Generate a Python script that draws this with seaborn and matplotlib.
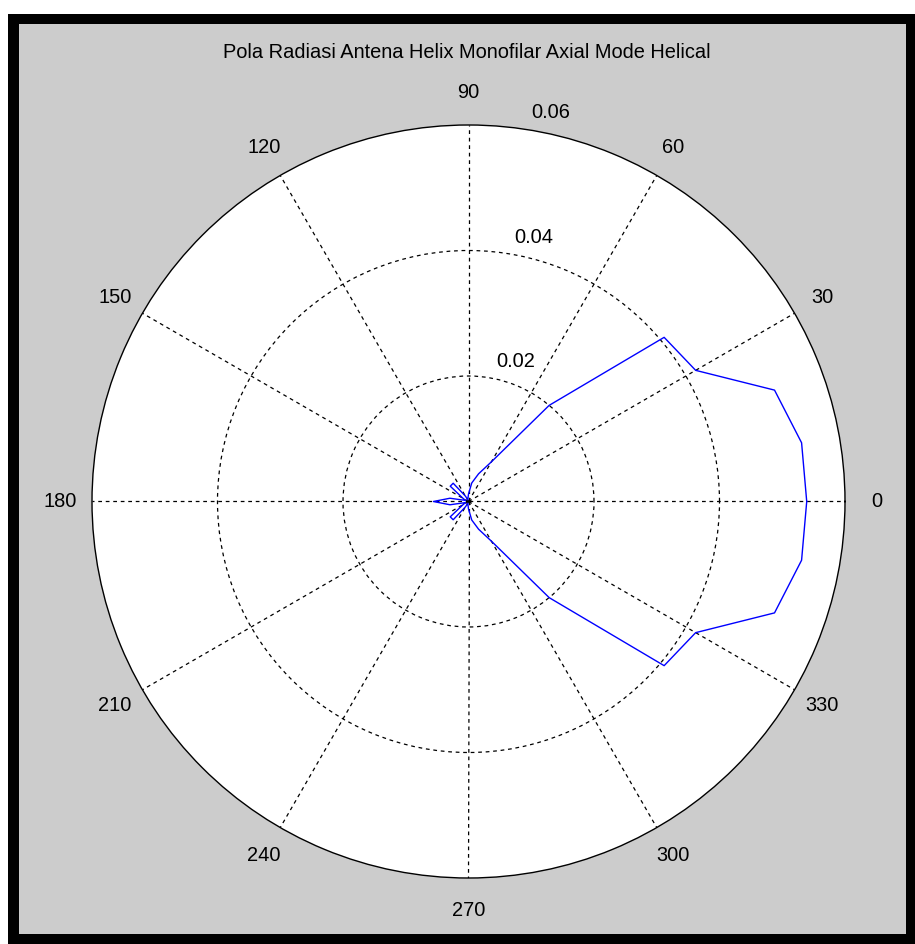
import numpy as np
import pandas as pd
import seaborn as sns
import matplotlib
matplotlib.use("Agg")
import matplotlib.pyplot as plt
from matplotlib.patches import Rectangle

# Radiation pattern samples (degrees, field magnitude)
angle_deg = [0, 10, 20, 30, 40, 50, 60, 70, 80, 90, 100, 110, 120, 130, 140, 150, 160, 170,
             180, 190, 200, 210, 220, 230, 240, 250, 260, 270, 280, 290, 300, 310, 320, 330,
             340, 350, 360]
magnitude = [0.0539, 0.0539, 0.0519, 0.0418, 0.0407, 0.0200, 0.0073, 0.0047, 0.0030, 0.0012,
             0.0005, 0.0003, 0.0010, 0.0038, 0.0038, 0.0010, 0.0005, 0.0030,
             0.0056, 0.0030, 0.0005, 0.0010, 0.0038, 0.0038, 0.0010, 0.0003, 0.0005,
             0.0012, 0.0030, 0.0047, 0.0073, 0.0200, 0.0407, 0.0418, 0.0519, 0.0539, 0.0539]

title_text = "Pola Radiasi Antena Helix Monofilar Axial Mode Helical"
r_ticks = [0.02, 0.04, 0.06]
r_tick_labels = ["0.02", "0.04", "0.06"]
theta_ticks = [0, 30, 60, 90, 120, 150, 180, 210, 240, 270, 300, 330]
theta_labels = [str(a) for a in theta_ticks]
r_max = 0.06

sns.set_style("white")
plt.rcParams["font.family"] = ["Liberation Sans Narrow", "Liberation Sans", "DejaVu Sans"]
FS = 14.4

df = pd.DataFrame({"theta": np.deg2rad(angle_deg), "r": magnitude})

W, H = 915, 944
fig = plt.figure(figsize=(W / 100, H / 100), dpi=100, facecolor="white")

# window frame: black border around a grey panel
fig.patches.append(Rectangle((8 / W, 0), 1 - 8 / W, 1 - 14 / H, transform=fig.transFigure,
                             facecolor="black", edgecolor="none", zorder=-10))
fig.patches.append(Rectangle((19 / W, 10 / H), (906 - 19) / W, (934 - 24) / H,
                             transform=fig.transFigure, facecolor="#cccccc",
                             edgecolor="none", zorder=-9))

cx, cy, rad = 468.5, 501.5, 376.5
ax = fig.add_axes([(cx - rad) / W, (H - cy - rad) / H, 2 * rad / W, 2 * rad / H],
                  projection="polar")
ax.set_zorder(2)
ax.set_facecolor("white")
ax.set_rlim(0, r_max)
ax.set_xticks(np.deg2rad(theta_ticks))
ax.set_yticks(r_ticks[:-1])
ax.set_xticklabels([])
ax.set_yticklabels([])
ax.grid(True, color="black", linestyle=(0, (3, 3)), linewidth=0.9)
ax.spines["polar"].set_color("black")
ax.spines["polar"].set_linewidth(1.0)

sns.lineplot(data=df, x="theta", y="r", sort=False, estimator=None, ax=ax,
             color="#0000ff", linewidth=1.0, zorder=5)
ax.set_xlabel("")
ax.set_ylabel("")

# angle labels around the rim
for a, lab in zip(theta_ticks, theta_labels):
    ax.text(np.deg2rad(a), r_max * 1.085, lab, ha="center", va="center",
            fontsize=FS, color="black", clip_on=False)

# radial labels along the 82 degree direction
for rv, lab in zip(r_ticks, r_tick_labels):
    ax.annotate(lab, xy=(np.deg2rad(82), rv + r_max / 60), xytext=(7, 0),
                textcoords="offset points", ha="left", va="bottom",
                fontsize=FS, color="black", annotation_clip=False)

fig.text(466.5 / W, 1 - 52 / H, title_text, ha="center", va="center", fontsize=FS,
         color="black")

fig.savefig("out.png", dpi=100, facecolor=fig.get_facecolor())
